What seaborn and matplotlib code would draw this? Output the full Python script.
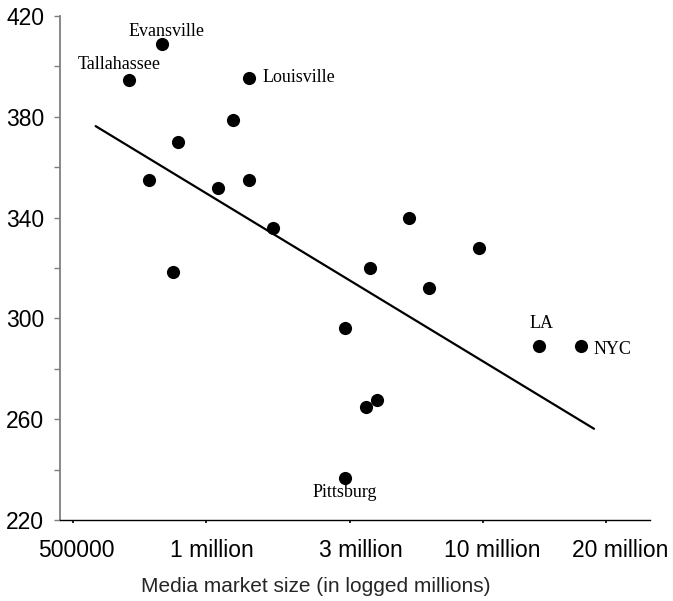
import matplotlib
matplotlib.use("Agg")
import matplotlib.pyplot as plt
import seaborn as sns
import pandas as pd
from matplotlib.ticker import MultipleLocator, FixedLocator, NullFormatter

# ---- data ----
city = ["Evansville", "Tallahassee", "Louisville", "", "", "", "", "", "", "",
        "", "", "", "", "", "LA", "NYC", "", "", "Pittsburg"]
market_size = [0.67, 0.42, 1.32, 1.20, 0.79, 0.57, 1.09, 1.32, 1.50, 0.75,
               2.52, 3.05, 2.23, 2.67, 2.04, 3.50, 3.81, 2.28, 2.20, 2.04]
score = [408.8, 394.6, 395.4, 378.7, 369.9, 354.8, 351.6, 354.8, 335.9, 318.5,
         339.7, 327.8, 319.9, 312.1, 296.2, 289.0, 289.0, 267.6, 265.0, 236.8]

fit_x = [0.17, 3.91]
fit_y = [376.3, 256.2]

x_tick_pos = [0.0, 1.0, 2.08, 3.08, 4.0]          # tick marks
x_label_pos = [0.0225, 1.043, 2.161, 3.144, 4.105]  # label centres
x_tick_labels = ["500000", "1 million", "3 million", "10 million", "20 million"]
y_ticks = [220, 260, 300, 340, 380, 420]

df = pd.DataFrame({"city": city, "market": market_size, "score": score})
fit_df = pd.DataFrame({"x": fit_x, "y": fit_y})

# label offsets in points (style)
label_style = {
    "Evansville": ((3, 9.5), "center", "center"),
    "Tallahassee": ((-7, 11.5), "center", "center"),
    "Louisville": ((10, 0), "left", "center"),
    "LA": ((1.5, 16), "center", "center"),
    "NYC": ((9.5, -2.5), "left", "center"),
    "Pittsburg": ((0, -11), "center", "center"),
}

sns.set_style("ticks")
plt.rcParams["font.family"] = ["Liberation Sans", "DejaVu Sans"]

fig = plt.figure(figsize=(6.73, 6.01), dpi=100)
ax = fig.add_axes([60 / 673, 1 - 520 / 601, 590 / 673, 504 / 601])

sns.lineplot(data=fit_df, x="x", y="y", ax=ax, color="black", linewidth=1.6,
             zorder=2)
sns.scatterplot(data=df, x="market", y="score", ax=ax, color="black", s=90,
                edgecolor="black", linewidth=0, zorder=3)

for _, row in df.iterrows():
    if row["city"] in label_style:
        off, ha, va = label_style[row["city"]]
        ax.annotate(row["city"], (row["market"], row["score"]),
                    xytext=off, textcoords="offset points", ha=ha, va=va,
                    fontsize=13, family="Liberation Serif", color="black")

ax.set_xlim(-0.0976, 4.33)
ax.set_ylim(220, 420)

# labels on major ticks (invisible marks), marks on minor ticks
ax.xaxis.set_major_locator(FixedLocator(x_label_pos))
ax.set_xticklabels(x_tick_labels)
ax.xaxis.set_minor_locator(FixedLocator(x_tick_pos))
ax.xaxis.set_minor_formatter(NullFormatter())

ax.set_yticks(y_ticks)
ax.yaxis.set_minor_locator(MultipleLocator(20))

for s in ["top", "right"]:
    ax.spines[s].set_visible(False)
ax.spines["left"].set_color("#7f7f7f")
ax.spines["left"].set_linewidth(1.3)
ax.spines["bottom"].set_color("black")
ax.spines["bottom"].set_linewidth(1.0)

ax.tick_params(axis="y", which="both", direction="out", length=4.5,
               width=1.0, color="#7f7f7f", labelsize=16.5, pad=7,
               labelcolor="black")
ax.tick_params(axis="x", which="major", direction="out", length=2.5,
               width=0, color="black", labelsize=16.5, pad=11,
               labelcolor="black")
ax.tick_params(axis="x", which="minor", direction="out", length=2.5,
               width=1.2, color="black")

ax.set_xlabel("Media market size (in logged millions)", fontsize=15)
ax.xaxis.set_label_coords(0.434, -0.114)
ax.set_ylabel("")

fig.savefig("out.png", dpi=100, facecolor="white")
